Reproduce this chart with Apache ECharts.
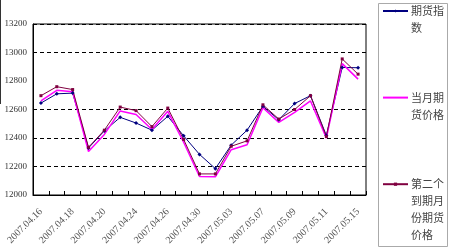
<!DOCTYPE html>
<html>
<head>
<meta charset="utf-8">
<script src="https://cdn.jsdelivr.net/npm/echarts@6/dist/echarts.min.js"></script>
<style>html,body{margin:0;padding:0;background:#fff;}#c{width:450px;height:250px;}</style>
</head>
<body>
<div id="c"></div>
<script>
var dates = ['2007.04.16','2007.04.17','2007.04.18','2007.04.19','2007.04.20','2007.04.23','2007.04.24','2007.04.25','2007.04.26','2007.04.27','2007.04.30','2007.05.02','2007.05.03','2007.05.04','2007.05.07','2007.05.08','2007.05.09','2007.05.10','2007.05.11','2007.05.14','2007.05.15'];
var futuresIndex = [12645,12710,12715,12330,12450,12545,12505,12455,12552,12415,12285,12185,12350,12455,12622,12528,12642,12697,12418,12895,12893];
var currentMonth = [12660,12735,12725,12305,12425,12590,12565,12460,12587,12370,12130,12128,12318,12353,12612,12510,12580,12660,12400,12922,12813];
var secondMonth = [12697,12760,12740,12335,12455,12617,12592,12480,12610,12390,12148,12148,12342,12380,12633,12533,12600,12697,12410,12955,12848];
var yTicks = [12000,12200,12400,12600,12800,13000,13200];
var names = ['期货指数','当月期货价格','第二个到期月份期货价格'];

function wrap(s){ var out=[]; for(var i=0;i<s.length;i+=3){out.push(s.slice(i,i+3));} return out.join('\n'); }
var LH = 17;
var legendCenters = [11, 98, 184];
var legendTexts = names.map(function(n, i){
  return {type:'text', left:411, top:legendCenters[i] - LH/2, silent:true,
    style:{text:wrap(n), fontFamily:'Noto Sans CJK SC', fontSize:11, fill:'#444', lineHeight:LH}};
});
var ih = 4;

var chart = echarts.init(document.getElementById('c'), null, {renderer:'canvas'});
chart.setOption({
  animation:false,
  backgroundColor:'#fff',
  grid:{left:33, top:24, right:84, bottom:55, show:true, borderColor:'#000', borderWidth:1},
  legend:{data:[names[0], {name:names[1], itemStyle:{opacity:0}}, names[2]], orient:'vertical', left:382, top:legendCenters[0]-ih/2, itemWidth:25, itemHeight:ih,
    itemGap:(legendCenters[1]-legendCenters[0])-ih, padding:0,
    formatter:function(){ return ''; }, textStyle:{fontSize:1}},
  graphic:[
    {type:'rect', shape:{x:378.5,y:3.5,width:69,height:243}, style:{fill:'none', stroke:'#aaa', lineWidth:1}, silent:true},
    {type:'line', shape:{x1:0.5,y1:0,x2:0.5,y2:104}, style:{stroke:'#333', lineWidth:1}, silent:true}
  ].concat(legendTexts),
  xAxis:{
    type:'category', data:dates, boundaryGap:true,
    axisLine:{lineStyle:{color:'#000', width:1}},
    axisTick:{show:true, inside:true, length:4, interval:0, lineStyle:{color:'#000'}},
    axisLabel:{interval:1, rotate:45, margin:15, fontFamily:'Liberation Serif', fontSize:10, color:'#555'},
    splitLine:{show:false}
  },
  yAxis:{
    type:'value', min:yTicks[0], max:yTicks[yTicks.length-1], interval:200,
    axisLine:{show:true, lineStyle:{color:'#000', width:1}},
    axisTick:{show:false},
    axisLabel:{margin:6, fontFamily:'Liberation Serif', fontSize:9, color:'#333', formatter:function(v){return String(v);}},
    splitLine:{show:true, lineStyle:{color:['#000','#000','#000','#000','rgba(0,0,0,0)','#000','#000'], type:[4,3], width:1}}
  },
  series:[
    {name:names[0], type:'line', data:futuresIndex, symbol:'diamond', symbolSize:4, showSymbol:true,
     lineStyle:{color:'#000080', width:1}, itemStyle:{color:'#000080'}},
    {name:names[1], type:'line', data:currentMonth, symbol:'none',
     lineStyle:{color:'#ff00ff', width:1.5}, itemStyle:{color:'#ff00ff'}},
    {name:names[2], type:'line', data:secondMonth, symbol:'rect', symbolSize:3, showSymbol:true,
     lineStyle:{color:'#800040', width:1}, itemStyle:{color:'#800040'}}
  ]
});
</script>
</body>
</html>
